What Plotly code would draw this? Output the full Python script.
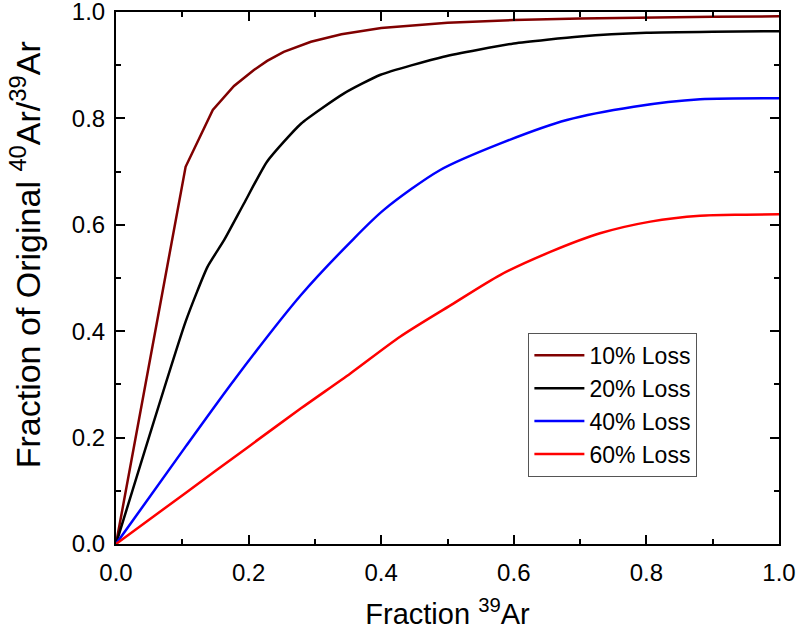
import plotly.graph_objects as go

# values
x10 = [0, 0.105, 0.146, 0.178, 0.208, 0.228, 0.253, 0.294, 0.34, 0.4, 0.5, 0.6, 0.7, 0.8, 0.9, 1.0]
y10 = [0, 0.709, 0.816, 0.861, 0.891, 0.908, 0.925, 0.944, 0.958, 0.970, 0.980, 0.985, 0.988, 0.990, 0.991, 0.992]

x20 = [0, 0.105, 0.138, 0.163, 0.193, 0.228, 0.279, 0.344, 0.399, 0.494, 0.6, 0.7, 0.8, 0.9, 1.0]
y20 = [0, 0.418, 0.521, 0.571, 0.640, 0.719, 0.790, 0.847, 0.882, 0.916, 0.941, 0.954, 0.961, 0.963, 0.964]

x40 = [0, 0.105, 0.178, 0.279, 0.354, 0.404, 0.489, 0.58, 0.68, 0.781, 0.881, 1.0]
y40 = [0, 0.183, 0.308, 0.468, 0.568, 0.628, 0.703, 0.753, 0.797, 0.822, 0.836, 0.838]

x60 = [0, 0.105, 0.2, 0.279, 0.354, 0.429, 0.505, 0.58, 0.655, 0.73, 0.806, 0.881, 0.95, 1.0]
y60 = [0, 0.096, 0.183, 0.255, 0.321, 0.390, 0.449, 0.506, 0.549, 0.584, 0.606, 0.617, 0.619, 0.620]

names = ["10% Loss", "20% Loss", "40% Loss", "60% Loss"]
colors = ["#800000", "#000000", "#0000ff", "#ff0000"]
shapes = ["linear", "spline", "spline", "spline"]
smooth = [0, 0.5, 0.8, 0.8]

fig = go.Figure()
for xs, ys, name, col, shp, sm in zip([x10, x20, x40, x60], [y10, y20, y40, y60], names, colors, shapes, smooth):
    fig.add_trace(go.Scatter(x=xs, y=ys, mode="lines", name=name,
                             line=dict(color=col, width=2.5, shape=shp, smoothing=sm)))

axis_style = dict(
    range=[0, 1], dtick=0.2, tickformat=".1f", automargin=False,
    showline=True, linecolor="black", linewidth=2, mirror="ticks",
    ticks="inside", ticklen=9, tickwidth=2, tickcolor="black",
    minor=dict(ticks="inside", dtick=0.1, ticklen=5, tickwidth=2, tickcolor="black"),
    showgrid=False, zeroline=False, ticklabeloverflow="allow",
    tickfont=dict(size=24, color="black"),
)

fig.update_xaxes(**axis_style, ticklabelstandoff=6,
                 title=dict(text="Fraction <sup>39</sup>Ar", font=dict(size=29, color="black"), standoff=24))
fig.update_yaxes(**axis_style, ticklabelstandoff=4)

# y title as a rotated annotation so it can sit a little above centre, as in the picture
fig.add_annotation(text="Fraction of Original <sup>40</sup>Ar/<sup>39</sup>Ar",
                   xref="paper", yref="paper", x=-0.137, y=0.543,
                   xanchor="center", yanchor="middle", textangle=-90,
                   showarrow=False, font=dict(size=34, color="black"))

fig.update_layout(
    width=796, height=630,
    margin=dict(l=116, r=17, t=12, b=86),
    plot_bgcolor="white", paper_bgcolor="white",
    font=dict(family="Liberation Sans, Arial, sans-serif"),
    legend=dict(x=0.622, y=0.397, xanchor="left", yanchor="top",
                bordercolor="#555555", borderwidth=1, bgcolor="white",
                font=dict(size=23, color="black"), tracegroupgap=0, itemwidth=50),
    showlegend=True,
)

# drop the page's default body margin so the figure sits at the window's corner
fig.write_html("out.html", config={"displayModeBar": False},
               post_script="document.body.style.margin='0';")
